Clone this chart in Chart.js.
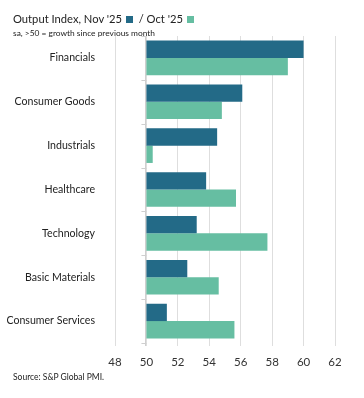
<!DOCTYPE html>
<html><head><meta charset="utf-8">
<script src="https://cdn.jsdelivr.net/npm/chart.js@4/dist/chart.umd.min.js"></script>
<style>
html,body{margin:0;padding:0;background:#fff;}
#wrap{position:relative;width:364px;height:398px;font-family:Lato,'Noto Sans',sans-serif;color:#222;}
canvas{position:absolute;left:0;top:0;}
#title{position:absolute;left:13px;top:12px;font-size:11.2px;white-space:nowrap;}
#title .sq{display:inline-block;width:7px;height:7px;vertical-align:0px;margin-left:1px;}
#sub{position:absolute;left:13px;top:28px;font-size:8.4px;white-space:nowrap;}
#src{position:absolute;left:13px;top:372px;font-size:8.5px;white-space:nowrap;}
</style></head>
<body>
<div id="wrap">
<canvas id="c" width="364" height="398"></canvas>
<div id="title">Output Index, Nov '25 <span class="sq" style="background:#236a87"></span> &nbsp;/ Oct '25 <span class="sq" style="background:#66bea2"></span></div>
<div id="sub">sa, &gt;50 = growth since previous month</div>
<div id="src">Source: S&amp;P Global PMI.</div>
</div>
<script>
const categories = ["Financials","Consumer Goods","Industrials","Healthcare","Technology","Basic Materials","Consumer Services"];
const nov25 = [60.0, 56.1, 54.5, 53.8, 53.2, 52.6, 51.3];
const oct25 = [59.0, 54.8, 50.4, 55.7, 57.7, 54.6, 55.6];
const xTicks = [48,50,52,54,56,58,60,62];
const baseValue = 50;

const tickPlugin = {
  id:'catTicks',
  afterDatasetsDraw(chart){
    const {ctx, scales:{x,y}} = chart;
    const px = x.getPixelForValue(baseValue);
    ctx.save();
    ctx.strokeStyle = '#cfcfcf';
    ctx.lineWidth = 1;
    ctx.beginPath();
    for(let i=0;i<=categories.length;i++){
      const yy = Math.round(y.getPixelForValue(i-0.5))+0.5;
      ctx.moveTo(px-5, yy); ctx.lineTo(px, yy);
    }
    ctx.moveTo(Math.round(px)-0.5, y.top); ctx.lineTo(Math.round(px)-0.5, y.bottom+3);
    ctx.stroke();
    ctx.restore();
  }
};

new Chart(document.getElementById('c'), {
  type:'bar',
  data:{
    labels:categories,
    datasets:[
      {label:"Nov '25", data:nov25.map(v=>[baseValue,v]), backgroundColor:'#236a87', categoryPercentage:0.79, barPercentage:1.0},
      {label:"Oct '25", data:oct25.map(v=>[baseValue,v]), backgroundColor:'#66bea2', categoryPercentage:0.79, barPercentage:1.0}
    ]
  },
  options:{
    indexAxis:'y',
    responsive:false,
    animation:false,
    layout:{padding:{top:36,right:29,bottom:25,left:0}},
    plugins:{legend:{display:false},tooltip:{enabled:false}},
    scales:{
      x:{
        min:48,max:62,
        afterBuildTicks(s){ s.ticks = xTicks.map(v=>({value:v})); },
        afterFit(s){ s.height = 30; },
        grid:{color:'#dedede',drawTicks:true,tickLength:3},
        border:{display:false},
        ticks:{padding:9,color:'#333',font:{family:'Lato',size:11.5}}
      },
      y:{
        afterFit(s){ s.width = 115; },
        grid:{display:false},
        border:{display:false},
        ticks:{padding:12,color:'#222',font:{family:'Lato',size:10.6}}
      }
    }
  },
  plugins:[tickPlugin]
});
</script>
</body></html>
